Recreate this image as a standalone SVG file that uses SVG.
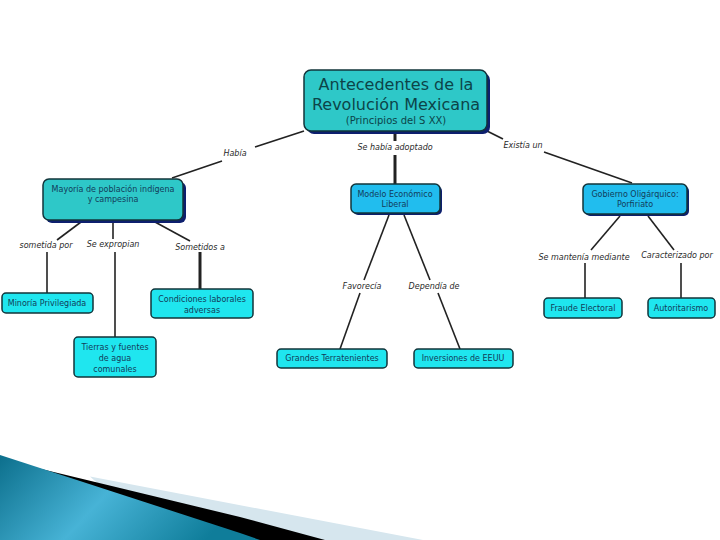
<svg xmlns="http://www.w3.org/2000/svg" width="720" height="540" viewBox="0 0 720 540">
<style>
.box{stroke:#12343a;stroke-width:1.5}
.shadow{fill:#0d1f6e}
.t1{fill:#2ec8c8}
.t2{fill:#21bdee}
.t3{fill:#1fe6ef}
.tt{font-family:"DejaVu Sans",Verdana,sans-serif;fill:#0c4448;text-anchor:middle}
.nt{font-family:"DejaVu Sans",Verdana,sans-serif;font-size:8px;fill:#123c5a;text-anchor:middle}
.lb{font-family:"DejaVu Sans",Verdana,sans-serif;font-size:8px;font-style:italic;fill:#2a2a2a;text-anchor:middle}
.c{stroke:#222;stroke-width:1.6;fill:none}
.ck{stroke:#222;stroke-width:3;fill:none}
</style>
<defs>
<linearGradient id="wedge" x1="0" y1="0" x2="1" y2="0.3">
<stop offset="0" stop-color="#0c6f8c"/>
<stop offset="0.5" stop-color="#47b3d6"/>
<stop offset="1" stop-color="#0f7d9a"/>
</linearGradient>
</defs>
<rect width="720" height="540" fill="#fff"/>
<g id="decoration">
<polygon points="90,476.5 423,540 160,540" fill="#d6e6ee"/>
<polygon points="33,467 240,517 325,540 180,540" fill="#000"/>
<polygon points="0,455 240,533 260,540 0,540" fill="url(#wedge)"/>
</g>
<g id="connectors">
<line class="c" x1="304" y1="131" x2="255" y2="147"/>
<line class="c" x1="222" y1="161" x2="172" y2="178"/>
<line class="ck" x1="395" y1="133" x2="395" y2="141"/>
<line class="ck" x1="395" y1="155" x2="395" y2="184"/>
<line class="c" x1="487" y1="131" x2="503" y2="139"/>
<line class="c" x1="544" y1="152" x2="632" y2="183"/>
<line class="c" x1="81" y1="222" x2="57" y2="240"/>
<line class="c" x1="113" y1="222" x2="113" y2="239"/>
<line class="c" x1="155" y1="222" x2="190" y2="241"/>
<line class="c" x1="47" y1="252" x2="47" y2="293"/>
<line class="c" x1="115" y1="252" x2="115" y2="337"/>
<line class="ck" x1="200" y1="252" x2="200" y2="289"/>
<line class="c" x1="389" y1="215" x2="364" y2="280"/>
<line class="c" x1="404" y1="215" x2="430" y2="280"/>
<line class="c" x1="360" y1="293" x2="340" y2="349"/>
<line class="c" x1="438" y1="293" x2="460" y2="349"/>
<line class="c" x1="620" y1="216" x2="591" y2="250"/>
<line class="c" x1="648" y1="216" x2="674" y2="250"/>
<line class="c" x1="585" y1="263" x2="585" y2="298"/>
<line class="c" x1="681" y1="263" x2="681" y2="298"/>
</g>
<g id="labels">
<text class="lb" x="235" y="156">Había</text>
<text class="lb" x="395" y="150">Se había adoptado</text>
<text class="lb" x="523" y="148">Existía un</text>
<text class="lb" x="46" y="248">sometida por</text>
<text class="lb" x="113" y="247">Se expropian</text>
<text class="lb" x="200" y="250">Sometidos a</text>
<text class="lb" x="362" y="289">Favorecía</text>
<text class="lb" x="434" y="289">Dependía de</text>
<text class="lb" x="584" y="260">Se mantenía mediante</text>
<text class="lb" x="677" y="258">Caracterizado por</text>
</g>
<g id="title">
<rect class="shadow" x="307" y="73" width="183" height="61" rx="7"/>
<rect class="box t1" x="304" y="70" width="183" height="61" rx="7"/>
<text class="tt" x="396" y="90" font-size="16">Antecedentes de la</text>
<text class="tt" x="396" y="110" font-size="16">Revolución Mexicana</text>
<text class="tt" x="396" y="124" font-size="10">(Principios del S XX)</text>
</g>
<g id="mayoria">
<rect class="shadow" x="46" y="182" width="140" height="41" rx="6"/>
<rect class="box t1" x="43" y="179" width="140" height="41" rx="6"/>
<text class="nt" x="113" y="192">Mayoría de población indígena</text>
<text class="nt" x="113" y="202">y campesina</text>
</g>
<g id="modelo">
<rect class="shadow" x="353" y="186" width="89" height="29" rx="5"/>
<rect class="box t2" x="351" y="184" width="89" height="29" rx="5"/>
<text class="nt" x="395" y="197">Modelo Económico</text>
<text class="nt" x="395" y="207">Liberal</text>
</g>
<g id="gobierno">
<rect class="shadow" x="585" y="186" width="104" height="30" rx="5"/>
<rect class="box t2" x="583" y="184" width="104" height="30" rx="5"/>
<text class="nt" x="635" y="197">Gobierno Oligárquico:</text>
<text class="nt" x="635" y="207">Porfiriato</text>
</g>
<g id="minoria">
<rect class="box t3" x="2" y="293" width="91" height="20" rx="4"/>
<text class="nt" x="47" y="306">Minoría Privilegiada</text>
</g>
<g id="tierras">
<rect class="box t3" x="74" y="337" width="82" height="40" rx="4"/>
<text class="nt" x="115" y="350">Tierras y fuentes</text>
<text class="nt" x="115" y="361">de agua</text>
<text class="nt" x="115" y="372">comunales</text>
</g>
<g id="condiciones">
<rect class="box t3" x="151" y="289" width="102" height="29" rx="4"/>
<text class="nt" x="202" y="302">Condiciones laborales</text>
<text class="nt" x="202" y="313">adversas</text>
</g>
<g id="grandes">
<rect class="box t3" x="277" y="349" width="110" height="19" rx="4"/>
<text class="nt" x="332" y="361">Grandes Terratenientes</text>
</g>
<g id="inversiones">
<rect class="box t3" x="414" y="349" width="99" height="19" rx="4"/>
<text class="nt" x="463" y="361">Inversiones de EEUU</text>
</g>
<g id="fraude">
<rect class="box t3" x="544" y="298" width="78" height="20" rx="4"/>
<text class="nt" x="583" y="311">Fraude Electoral</text>
</g>
<g id="autoritarismo">
<rect class="box t3" x="648" y="298" width="67" height="20" rx="4"/>
<text class="nt" x="681" y="311">Autoritarismo</text>
</g>
</svg>
